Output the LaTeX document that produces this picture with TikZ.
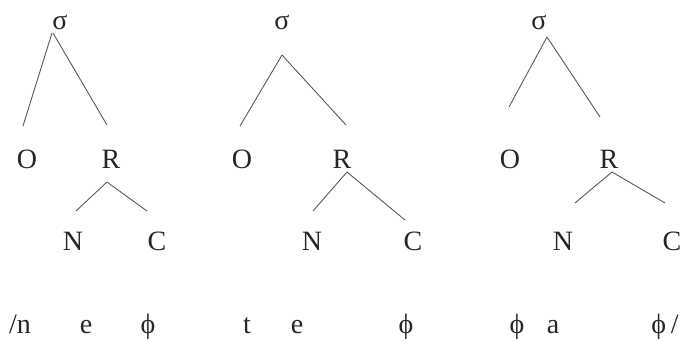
\documentclass[tikz,border=0pt]{standalone}
\usepackage{fontspec}
\setmainfont{Liberation Serif}
\begin{document}
\begin{tikzpicture}[x=1pt,y=-1pt,
  lbl/.style={anchor=base,inner sep=0pt,font=\fontsize{28}{30}\selectfont,text=black!85},
  branch/.style={draw=black!65,line width=0.9pt}]
\useasboundingbox (0,0) rectangle (683,341);
% ---- tree 1
\node[lbl] (s1) at (60,29) {σ};
\node[lbl] (o1) at (27,168) {O};
\node[lbl] (r1) at (111,168) {R};
\node[lbl] (n1) at (73,250) {N};
\node[lbl] (c1) at (157,250) {C};
\node[lbl] (w1a) at (20,333) {/n};
\node[lbl] (w1b) at (86,333) {e};
\node[lbl] (w1c) at (148,333) {ϕ};
\coordinate (s1l) at (52,33); \coordinate (s1r) at (53,33);
\coordinate (o1t) at (23,126); \coordinate (r1t) at (107,125);
\coordinate (r1b) at (107,182);
\coordinate (n1t) at (76,211); \coordinate (c1t) at (147,211);
\draw[branch] (s1l) -- (o1t);
\draw[branch] (s1r) -- (r1t);
\draw[branch] (r1b) -- (n1t);
\draw[branch] (r1b) -- (c1t);
% ---- tree 2
\node[lbl] (s2) at (282,29) {σ};
\node[lbl] (o2) at (242,168) {O};
\node[lbl] (r2) at (342,168) {R};
\node[lbl] (n2) at (312,250) {N};
\node[lbl] (c2) at (413,250) {C};
\node[lbl] (w2a) at (247,333) {t};
\node[lbl] (w2b) at (297,333) {e};
\node[lbl] (w2c) at (406,333) {ϕ};
\coordinate (s2b) at (282,55);
\coordinate (o2t) at (240,126); \coordinate (r2t) at (346,125);
\coordinate (r2b) at (347,172);
\coordinate (n2t) at (313,211); \coordinate (c2t) at (405,220);
\draw[branch] (s2b) -- (o2t);
\draw[branch] (s2b) -- (r2t);
\draw[branch] (r2b) -- (n2t);
\draw[branch] (r2b) -- (c2t);
% ---- tree 3
\node[lbl] (s3) at (539,29) {σ};
\node[lbl] (o3) at (510,168) {O};
\node[lbl] (r3) at (609,168) {R};
\node[lbl] (n3) at (563,250) {N};
\node[lbl] (c3) at (672,250) {C};
\node[lbl] (w3a) at (517,333) {ϕ};
\node[lbl] (w3b) at (553,333) {a};
\node[lbl] (w3c) at (665,333) {ϕ\,/};
\coordinate (s3b) at (547,37);
\coordinate (o3t) at (509,107); \coordinate (r3t) at (600,117);
\coordinate (r3b) at (612,172);
\coordinate (n3t) at (575,203); \coordinate (c3t) at (665,203);
\draw[branch] (s3b) -- (o3t);
\draw[branch] (s3b) -- (r3t);
\draw[branch] (r3b) -- (n3t);
\draw[branch] (r3b) -- (c3t);
\end{tikzpicture}
\end{document}
